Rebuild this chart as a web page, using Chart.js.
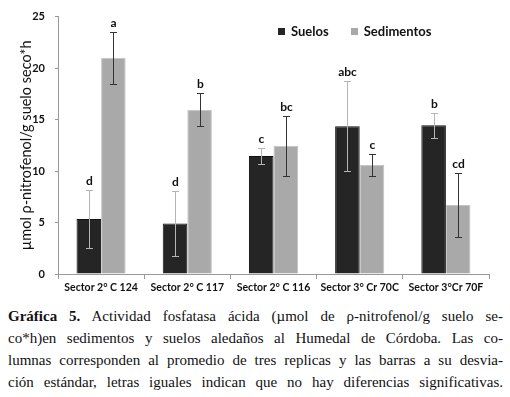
<!DOCTYPE html>
<html>
<head>
<meta charset="utf-8">
<script src="https://cdn.jsdelivr.net/npm/chart.js@4.4.1/dist/chart.umd.min.js"></script>
<style>
  body { margin: 0; background: #fff; }
  #wrap { position: relative; width: 510px; height: 300px; }
  #legend { position: absolute; top: 23px; left: 278px; font-family: Lato, sans-serif; font-size: 13px; font-weight: bold; color: #111; white-space: nowrap; }
  #legend span.item { display: inline-block; margin-right: 22px; }
  #legend i { display: inline-block; width: 7px; height: 7px; margin-right: 6px; vertical-align: 1px; }
  #caption {
    margin: 5px 7px 0 8px;
    font-family: "Liberation Serif", "DejaVu Serif", serif;
    font-size: 15px;
    line-height: 22px;
    color: #111;
  }
  #caption span { display: block; text-align: justify; text-align-last: justify; white-space: nowrap; }
</style>
</head>
<body>
<div id="wrap"><canvas id="chart" width="510" height="300"></canvas><div id="legend"></div></div>
<p id="caption">
<span><b>Gráfica 5.</b> Actividad fosfatasa ácida (µmol de ρ-nitrofenol/g suelo se-</span>
<span>co*h)en sedimentos y suelos aledaños al Humedal de Córdoba. Las co-</span>
<span>lumnas corresponden al promedio de tres replicas y las barras a su desvia-</span>
<span>ción estándar, letras iguales indican que no hay diferencias significativas.</span>
</p>
<script>
// datos
const sectors = ['Sector 2° C 124', 'Sector 2° C 117', 'Sector 2° C 116', 'Sector 3° Cr 70C', 'Sector 3°Cr 70F'];
const suelos = [5.35, 4.9, 11.45, 14.35, 14.45];
const suelosErr = [2.8, 3.2, 0.75, 4.35, 1.2];
const suelosLetters = ['d', 'd', 'c', 'abc', 'b'];
const sedimentos = [21.0, 15.95, 12.45, 10.6, 6.7];
const sedimentosErr = [2.5, 1.6, 2.9, 1.1, 3.15];
const sedimentosLetters = ['a', 'b', 'bc', 'c', 'cd'];
const yTicks = [0, 5, 10, 15, 20, 25];

const errs = [suelosErr, sedimentosErr];
const letters = [suelosLetters, sedimentosLetters];
const errColors = ['#b5b5b5', '#333'];

// barras de error + letras
const errorBars = {
  id: 'errorBars',
  afterDatasetsDraw(chart) {
    const ctx = chart.ctx;
    const y = chart.scales.y;
    ctx.save();
    chart.data.datasets.forEach((ds, i) => {
      const meta = chart.getDatasetMeta(i);
      meta.data.forEach((bar, j) => {
        const top = Math.round(y.getPixelForValue(ds.data[j] + errs[i][j]));
        const bot = Math.round(y.getPixelForValue(ds.data[j] - errs[i][j]));
        const x = Math.round(bar.x);
        ctx.strokeStyle = errColors[i];
        ctx.lineWidth = 1;
        ctx.beginPath();
        ctx.moveTo(x + 0.5, top); ctx.lineTo(x + 0.5, bot);
        ctx.moveTo(x - 3, top + 0.5); ctx.lineTo(x + 4, top + 0.5);
        ctx.moveTo(x - 3, bot + 0.5); ctx.lineTo(x + 4, bot + 0.5);
        ctx.stroke();
        ctx.fillStyle = '#111';
        ctx.font = 'bold 12px Lato';
        ctx.textAlign = 'center';
        ctx.textBaseline = 'bottom';
        ctx.fillText(letters[i][j], x + 0.5, top - 3);
      });
    });
    ctx.restore();
  }
};

const chart = new Chart(document.getElementById('chart'), {
  type: 'bar',
  data: {
    labels: sectors,
    datasets: [
      { label: 'Suelos', data: suelos, backgroundColor: '#252525', borderColor: '#111', borderWidth: 1,
        categoryPercentage: 0.57, barPercentage: 1 },
      { label: 'Sedimentos', data: sedimentos, backgroundColor: '#a9a9a9', borderColor: '#c4c4c4', borderWidth: 1,
        categoryPercentage: 0.57, barPercentage: 1 }
    ]
  },
  options: {
    responsive: false,
    animation: false,
    layout: { padding: { top: 13, right: 21, left: 18, bottom: 0 } },
    plugins: {
      legend: { display: false },
      tooltip: { enabled: false }
    },
    scales: {
      x: {
        grid: { display: true, drawOnChartArea: false, offset: true, tickLength: 5, color: '#999' },
        border: { color: '#999' },
        ticks: { color: '#111', font: { family: 'Lato', size: 10.5, weight: 'bold' }, maxRotation: 0, padding: 2 },
        afterFit: s => { s.height = 26; }
      },
      y: {
        min: 0, max: 25,
        afterBuildTicks: s => { s.ticks = yTicks.map(v => ({ value: v })); },
        grid: { display: true, drawOnChartArea: false, tickLength: 3, color: '#999' },
        border: { color: '#999' },
        ticks: { color: '#111', font: { family: 'Lato', size: 11, weight: 'bold' }, padding: 10 },
        title: { display: true, text: 'µmol ρ-nitrofenol/g suelo seco*h', color: '#111',
          font: { family: 'Lato', size: 14.5 }, padding: 0 },
        afterFit: s => { s.width = 40; }
      }
    }
  },
  plugins: [errorBars]
});

// leyenda
const legendColors = ['#252525', '#a9a9a9'];
document.getElementById('legend').innerHTML = chart.data.datasets
  .map((ds, i) => `<span class="item"><i style="background:${legendColors[i]}"></i>${ds.label}</span>`)
  .join('');
</script>
</body>
</html>
